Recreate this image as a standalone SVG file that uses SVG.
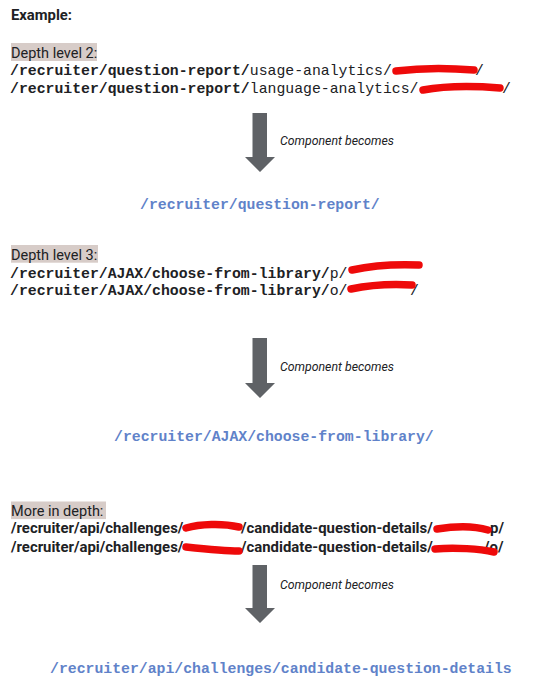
<svg xmlns="http://www.w3.org/2000/svg" width="537" height="691" viewBox="0 0 537 691">
<defs>
<style>
.sans{font-family:Roboto,"Liberation Sans",Arial,sans-serif;fill:#202124}
.h{font-size:14.8px;font-weight:bold}
.lvl{font-size:14.5px}
.hl{fill:#d7ccc8}
.mono{font-family:"Liberation Mono","Courier New",monospace;font-size:14.8px;fill:#202124}
.b{font-weight:bold}
.out{font-family:"Liberation Mono","Courier New",monospace;font-size:14.8px;font-weight:bold;fill:#6082c9}
.lab{font-family:Roboto,"Liberation Sans",Arial,sans-serif;font-size:12.3px;font-style:italic;fill:#202124}
.arrow{fill:#5f6266}
.red{fill:none;stroke:#ee0a0a;stroke-width:7.5;stroke-linecap:round;stroke-linejoin:round}
.sb{font-family:Roboto,"Liberation Sans",Arial,sans-serif;font-size:14.9px;font-weight:bold;fill:#202124}
</style>
</defs>
<rect width="537" height="691" fill="#ffffff"/>

<g id="title">
<text class="sans h" x="11" y="20">Example:</text>
</g>

<g id="depth2">
<rect class="hl" x="11" y="43" width="86" height="18"/>
<text class="sans lvl" x="11" y="57.5">Depth level 2:</text>
<text class="mono" x="10" y="74.5"><tspan class="b">/recruiter/question-report/</tspan>usage-analytics/<tspan x="475">/</tspan></text>
<text class="mono" x="10" y="92.5"><tspan class="b">/recruiter/question-report/</tspan>language-analytics/<tspan x="502">/</tspan></text>
<path class="red" d="M396 71 C420 68 450 68 474 70"/>
<path class="red" d="M423 90 C445 86 475 86 500 88"/>
</g>

<g id="result2">
<text class="out" x="140" y="209">/recruiter/question-report/</text>
</g>

<g id="depth3">
<rect class="hl" x="11" y="245" width="87" height="17.7"/>
<text class="sans lvl" x="11" y="259.5">Depth level 3:</text>
<text class="mono" x="10" y="277.5"><tspan class="b">/recruiter/AJAX/choose-from-library/</tspan>p/</text>
<text class="mono" x="10" y="294.5"><tspan class="b">/recruiter/AJAX/choose-from-library/</tspan>o/<tspan x="410">/</tspan></text>
<path class="red" d="M352 270 C370 266 395 264 419 265"/>
<path class="red" d="M351 289 C370 285 395 284 412 285"/>
</g>

<g id="result3">
<text class="out" x="114" y="441">/recruiter/AJAX/choose-from-library/</text>
</g>

<g id="depthMore">
<rect class="hl" x="11" y="501.5" width="95" height="17.6"/>
<text class="sans lvl" x="11" y="516">More in depth:</text>
<text class="sb" x="11" y="533">/recruiter/api/challenges/<tspan x="241">/candidate-question-details/</tspan><tspan x="490">p/</tspan></text>
<text class="sb" x="11" y="551.5">/recruiter/api/challenges/<tspan x="241">/candidate-question-details/</tspan><tspan x="484">/o/</tspan></text>
<path class="red" d="M186 528 C200 524 222 523 239 527"/>
<path class="red" d="M437 529 C455 526 475 526 488 530"/>
<path class="red" d="M186 547 C205 549 225 551 239 551"/>
<path class="red" d="M435 549 C455 547 480 549 494 552"/>
</g>

<g id="resultMore">
<text class="out" x="50" y="673">/recruiter/api/challenges/candidate-question-details</text>
</g>

<g id="connectors">
<polygon class="arrow" points="252.5,113 267,113 267,157 275,157 260,172 245,157 252.5,157"/>
<text class="lab" x="280" y="145">Component becomes</text>
<polygon class="arrow" points="252.5,338 267,338 267,383 275,383 260,398 245,383 252.5,383"/>
<text class="lab" x="280" y="371">Component becomes</text>
<polygon class="arrow" points="252.5,565 267,565 267,608 275,608 260,623 245,608 252.5,608"/>
<text class="lab" x="280" y="589">Component becomes</text>
</g>
</svg>
